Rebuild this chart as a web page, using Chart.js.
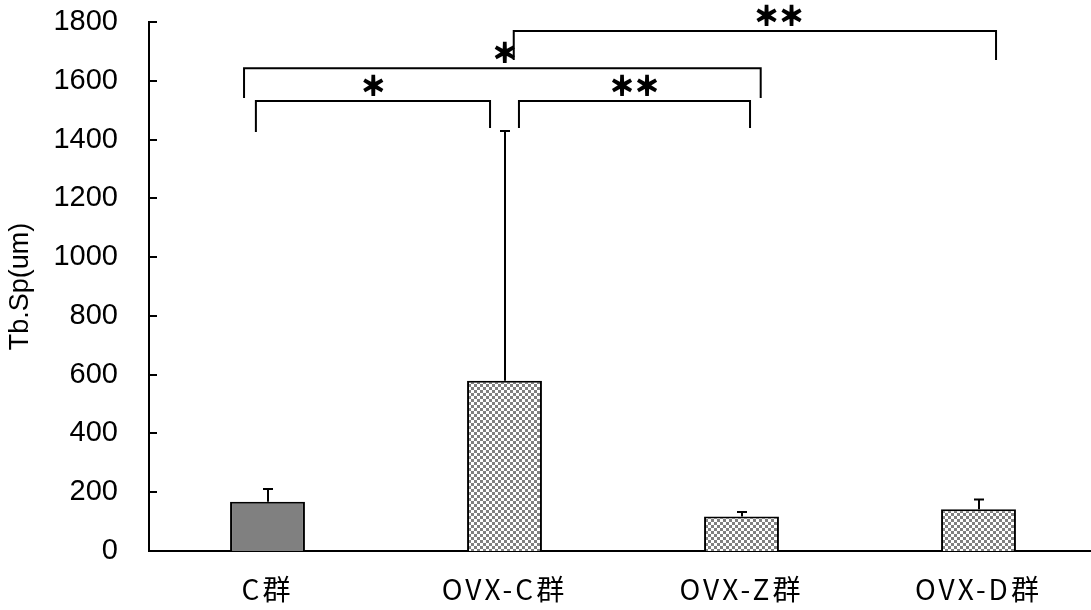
<!DOCTYPE html>
<html>
<head>
<meta charset="utf-8">
<script src="https://cdn.jsdelivr.net/npm/chart.js@4/dist/chart.umd.min.js"></script>
<style>
  html, body { margin: 0; padding: 0; background: #fff; overflow: hidden; }
  #wrap { width: 1097px; height: 610px; }
</style>
</head>
<body>
<div id="wrap"><canvas id="c"></canvas></div>
<script>
// ── Data ──
const groups = ['C群', 'OVX-C群', 'OVX-Z群', 'OVX-D群'];
const means = [168, 579, 117, 142];
const errUp = [43, 850, 16, 33];
const yTicks = [0, 200, 400, 600, 800, 1000, 1200, 1400, 1600, 1800];

// significance brackets: category index (+ fraction of a category), heights in data units
const brFrom = [-0.049, -0.099, 1.061, 1.039];
const brTo = [0.939, 2.081, 2.036, 3.074];
const brTop = [1531, 1643, 1531, 1769];
const brLegL = [1426, 1541, 1439, 1671];
const brLegR = [1439, 1541, 1439, 1671];
const brMark = ['＊', '＊', '＊＊', '＊＊'];
const brMarkAt = [0.446, 1.001, 1.548, 2.158];

// ── Checker fill ──
function checker() {
    const p = document.createElement('canvas');
    p.width = 6; p.height = 6;
    const g = p.getContext('2d');
    g.fillStyle = '#fff'; g.fillRect(0, 0, 6, 6);
    g.fillStyle = '#808080';
    g.fillRect(0, 0, 3, 3); g.fillRect(3, 3, 3, 3);
    return g.createPattern(p, 'repeat');
}
const chk = checker();
const fills = groups.map((g, i) => i === 0 ? '#808080' : chk);

// ── Extras: wide-spaced x labels, inward y ticks, error bars, brackets ──
const extras = {
    id: 'extras',
    afterLayout(chart) {
        const x = chart.scales.x;
        if (x._spaced) return;
        const orig = x.drawLabels;
        x.drawLabels = function (area) {
            const ctx = this.ctx;
            const prev = ctx.letterSpacing;
            ctx.letterSpacing = '3px';
            orig.call(this, area);
            ctx.letterSpacing = prev || '0px';
        };
        x._spaced = true;
    },
    afterDatasetsDraw(chart) {
        const { ctx, scales: { x, y }, chartArea } = chart;
        const step = x.getPixelForValue(1) - x.getPixelForValue(0);
        const px = v => x.getPixelForValue(0) + v * step;
        ctx.save();
        ctx.strokeStyle = '#000';
        ctx.lineWidth = 2;
        ctx.lineCap = 'butt';

        // y ticks (inside)
        for (const t of yTicks) {
            const yy = Math.round(y.getPixelForValue(t));
            ctx.beginPath();
            ctx.moveTo(chartArea.left, yy);
            ctx.lineTo(chartArea.left + 8, yy);
            ctx.stroke();
        }

        // error bars (upper only)
        means.forEach((m, i) => {
            const cx = Math.round(x.getPixelForValue(i));
            const y0 = y.getPixelForValue(m);
            const y1 = y.getPixelForValue(m + errUp[i]);
            ctx.beginPath();
            ctx.moveTo(cx, y0); ctx.lineTo(cx, y1);
            ctx.moveTo(cx - 5, y1); ctx.lineTo(cx + 5, y1);
            ctx.stroke();
        });

        // brackets
        ctx.fillStyle = '#000';
        ctx.font = 'bold 25px "Noto Sans CJK JP"';
        ctx.textAlign = 'center';
        ctx.textBaseline = 'middle';
        brTop.forEach((t, i) => {
            const xl = px(brFrom[i]), xr = px(brTo[i]);
            const yt = y.getPixelForValue(t);
            ctx.lineWidth = 2;
            ctx.beginPath();
            ctx.moveTo(xl, y.getPixelForValue(brLegL[i]));
            ctx.lineTo(xl, yt);
            ctx.lineTo(xr, yt);
            ctx.lineTo(xr, y.getPixelForValue(brLegR[i]));
            ctx.stroke();
            ctx.lineWidth = 1.8;
            ctx.fillText(brMark[i], px(brMarkAt[i]), yt - 16);
            ctx.strokeText(brMark[i], px(brMarkAt[i]), yt - 16);
        });
        ctx.restore();
    }
};

new Chart(document.getElementById('c'), {
    type: 'bar',
    data: {
        labels: groups,
        datasets: [{
            data: means,
            backgroundColor: fills,
            borderColor: '#000',
            borderWidth: 2,
            borderSkipped: 'bottom',
            barPercentage: 0.316,
            categoryPercentage: 1
        }]
    },
    options: {
        responsive: true,
        maintainAspectRatio: false,
        animation: false,
        layout: { padding: { top: 22, right: 0, left: 0, bottom: 0 } },
        plugins: { legend: { display: false }, tooltip: { enabled: false } },
        scales: {
            x: {
                grid: { display: false, drawTicks: false },
                border: { display: true, color: '#000', width: 2 },
                ticks: { color: '#000', padding: 22, font: { family: '"Noto Sans CJK JP"', size: 28 } },
                afterFit: s => { s.height = 59; }
            },
            y: {
                min: 0, max: 1800,
                afterBuildTicks: s => { s.ticks = yTicks.map(v => ({ value: v })); },
                grid: { display: false, drawTicks: false },
                border: { display: true, color: '#000', width: 2 },
                ticks: { color: '#000', padding: 31, font: { family: '"Liberation Sans"', size: 29 }, callback: v => String(v) },
                title: {
                    display: true, text: 'Tb.Sp(um)', color: '#000',
                    font: { family: '"Liberation Sans"', size: 27 },
                    padding: { top: 4, bottom: 0 }
                },
                afterFit: s => { s.width = 149; s.paddingTop = 0; s.paddingBottom = 0; }
            }
        }
    },
    plugins: [extras]
});
</script>
</body>
</html>
